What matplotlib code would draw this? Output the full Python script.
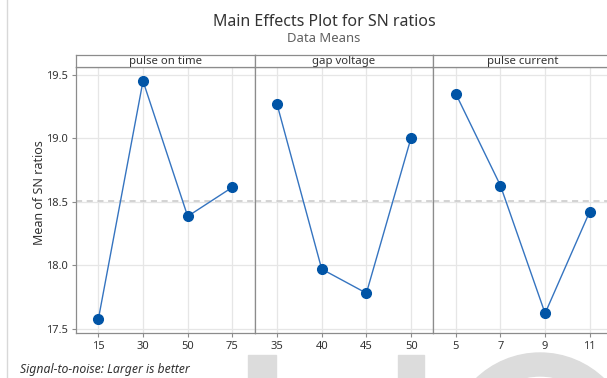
'''
Main Effects Plot for SN ratios (Minitab style)
'''
import numpy as np
import matplotlib
matplotlib.use('Agg')
from matplotlib import pyplot as plt
from matplotlib.patches import Rectangle, Wedge
from matplotlib.lines import Line2D

plt.rcParams['font.family'] = ['Noto Sans', 'DejaVu Sans']

# data
factors = ['pulse on time', 'gap voltage', 'pulse current']
levels = [['15', '30', '50', '75'],
          ['35', '40', '45', '50'],
          ['5', '7', '9', '11']]
pulse_on_time = [17.574, 19.453, 18.386, 18.615]
gap_voltage = [19.270, 17.970, 17.780, 19.005]
pulse_current = [19.353, 18.629, 17.621, 18.424]
sn_means = [pulse_on_time, gap_voltage, pulse_current]
yticks = [17.5, 18.0, 18.5, 19.0, 19.5]

grand_mean = np.mean(pulse_on_time + gap_voltage + pulse_current)

W, H = 607, 378
fig = plt.figure(figsize=(W / 100, H / 100), dpi=100)

def px(x0, y0, x1, y1):
    # pixel box (top-left origin) -> figure fraction
    return [x0 / W, 1 - y1 / H, (x1 - x0) / W, (y1 - y0) / H]

line_col = '#3574c0'
dot_col = '#0054a6'
frame_col = '#8c8c8c'
text_col = '#333333'

left, pw = 76, 178.7
top, bottom = 67.3, 333
axes = []
for i in range(3):
    x0 = left + i * pw
    ax = fig.add_axes(px(x0, top, x0 + pw, bottom))
    vals = sn_means[i]
    xs = np.arange(len(vals))
    ax.plot(xs, vals, color=line_col, lw=1.0, zorder=3)
    ax.plot(xs, vals, 'o', color=dot_col, ms=7, zorder=4)
    ax.axhline(grand_mean, color='#c8c8c8', ls=(0, (4, 3)), lw=1.1, zorder=2)
    ax.set_xlim(-0.5, 3.5)
    ax.set_ylim(17.466, 19.561)
    ax.set_xticks(xs)
    ax.set_xticklabels(levels[i])
    ax.set_yticks(yticks)
    ax.grid(True, color='#e6e6e6', lw=0.9, zorder=0)
    ax.set_axisbelow(True)
    for s in ax.spines.values():
        s.set_color(frame_col)
        s.set_linewidth(0.9)
    ax.tick_params(colors=frame_col, labelcolor=text_col, length=3, width=0.8,
                   labelsize=8, pad=3)
    for lab in ax.get_xticklabels() + ax.get_yticklabels():
        lab.set_fontweight('semibold')
    if i == 0:
        ax.set_yticklabels(['%.1f' % t for t in yticks])
        ax.set_ylabel('Mean of SN ratios', fontsize=9, color=text_col)
        ax.yaxis.set_label_coords(-0.17, 0.53)
    else:
        ax.tick_params(axis='y', left=False, labelleft=False)
    # strip header
    sax = fig.add_axes(px(x0, 55, x0 + pw, top))
    sax.set_xticks([])
    sax.set_yticks([])
    for s in sax.spines.values():
        s.set_color(frame_col)
        s.set_linewidth(0.9)
    sax.text(0.5, 0.45, factors[i], ha='center', va='center', fontsize=8.2,
             fontweight='semibold', color=text_col, transform=sax.transAxes)
    axes.append(ax)

fig.text(324 / W, 1 - 22 / H, 'Main Effects Plot for SN ratios', ha='center',
         va='center', fontsize=11.5, color=text_col)
fig.text(324 / W, 1 - 38 / H, 'Data Means', ha='center', va='center',
         fontsize=9.4, color='#606060')
fig.text(20 / W, 1 - 369 / H, 'Signal-to-noise: Larger is better', ha='left',
         va='center', fontsize=8.8, style='italic', color=text_col)

# left border of the original page
fig.add_artist(Line2D([7 / W, 7 / W], [0, 1], color='#d8d8d8', lw=1,
                      transform=fig.transFigure))

# grey watermark shapes at the bottom
wm = '#dcdcdc'
fig.add_artist(Rectangle((248, 0), 28, 23, color=wm, transform=None, zorder=0))
fig.add_artist(Rectangle((398, 0), 26, 23, color=wm, transform=None, zorder=0))
fig.add_artist(Wedge((540, H - 445), 92, 0, 180, width=23, color=wm,
                     transform=None, zorder=0))

fig.savefig('out.png', dpi=100)
